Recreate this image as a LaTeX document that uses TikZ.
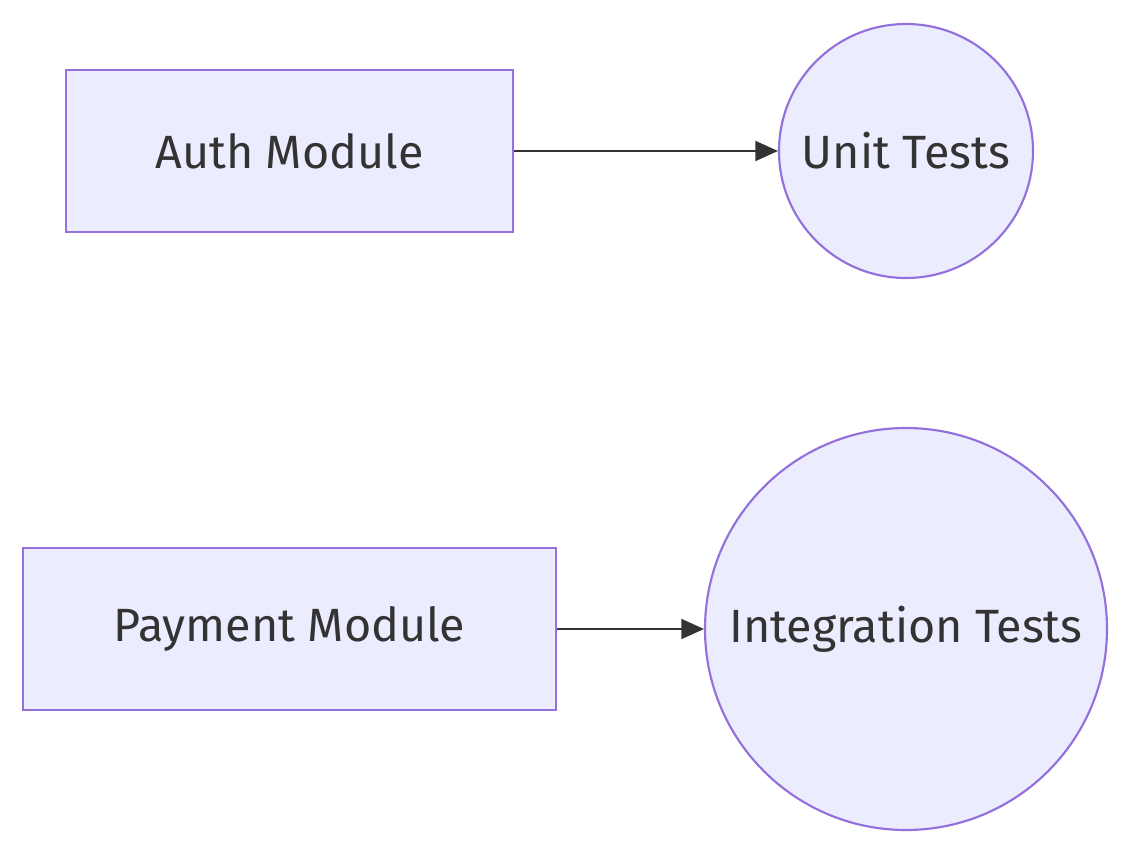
\documentclass[tikz,border=0pt]{standalone}
\usepackage{fontspec}
\setmainfont{Fira Sans}
\usetikzlibrary{arrows.meta}
\definecolor{nodefill}{HTML}{ECECFF}
\definecolor{nodeline}{HTML}{9370DB}
\definecolor{ink}{HTML}{333333}
\begin{document}
\begin{tikzpicture}[x=0.75pt,y=-0.75pt,
  box/.style={draw=nodeline,fill=nodefill,line width=1.6pt,rectangle,minimum height=121.5pt,inner sep=0pt,text=ink,font=\fontsize{35}{42}\selectfont},
  disc/.style={draw=nodeline,fill=nodefill,line width=1.6pt,circle,inner sep=0pt,text=ink,font=\fontsize{35}{42}\selectfont},
  conn/.style={draw=ink,line width=1.6pt,-{Triangle[length=17pt,width=15pt]}}]
\useasboundingbox (0,0) rectangle (1132,854);
\node[box,minimum width=335.25pt] (auth) at (289.5,151) {Auth Module};
\node[disc,minimum size=190.5pt] (unit) at (906,151) {Unit Tests};
\node[box,minimum width=399.75pt] (pay) at (289.5,629) {Payment Module};
\node[disc,minimum size=301.5pt] (integ) at (906,629) {Integration Tests};
\draw[conn] (auth) -- (unit);
\draw[conn] (pay) -- (integ);
\end{tikzpicture}
\end{document}
